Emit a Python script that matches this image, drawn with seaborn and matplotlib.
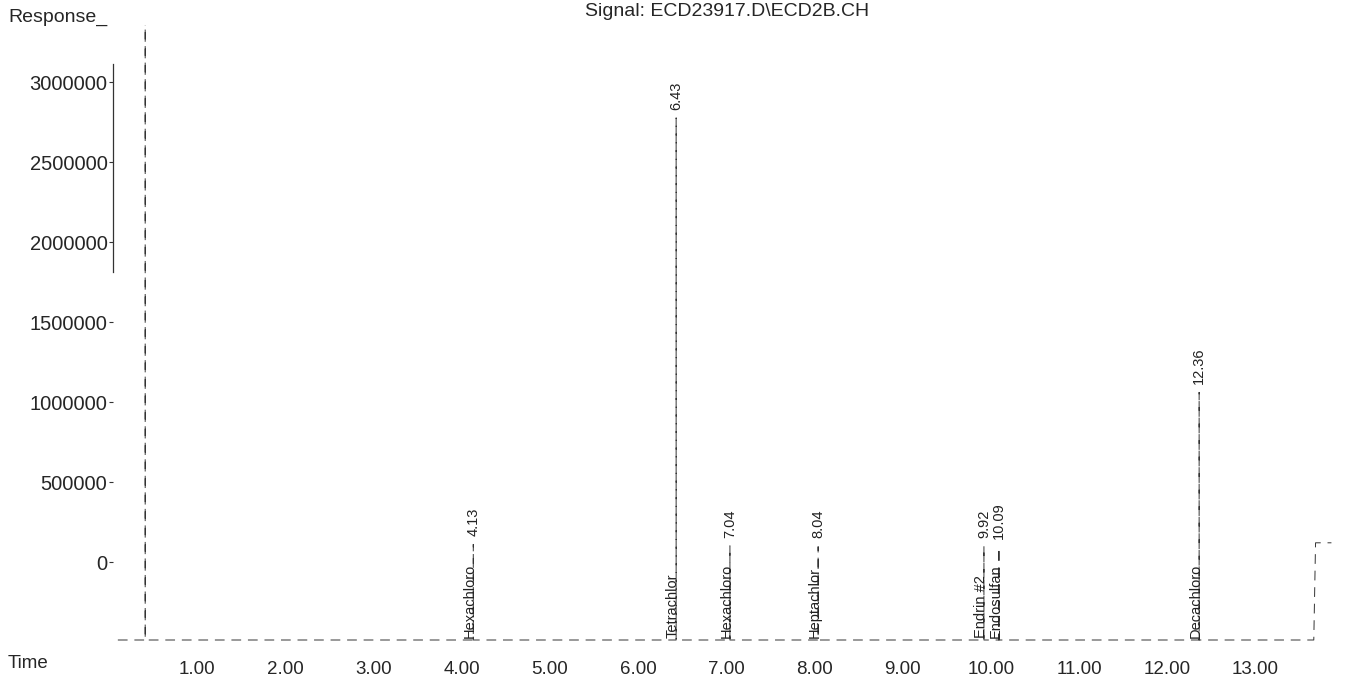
import numpy as np
import pandas as pd
import seaborn as sns
import matplotlib.pyplot as plt

# chromatogram trace (time in min, response)
base = -487500
trace_time = [0.10, 0.41, 0.41, 0.41, 4.13, 4.13, 4.13, 6.43, 6.43, 6.43, 7.04, 7.04, 7.04,
              8.04, 8.04, 8.04, 9.92, 9.92, 9.92, 10.09, 10.09, 10.09, 12.36, 12.36, 12.36,
              13.66, 13.68, 13.86]
trace_resp = [base, base, 4500000, base, base, 110000, base, base, 2775000, base, base, 100000, base,
              base, 95000, base, base, 100000, base, base, 90000, base, base, 1060000, base,
              base, 120000, 120000]

# integrated peaks
peak_rt = [4.13, 6.43, 7.04, 8.04, 9.92, 10.09, 12.36]
peak_top = [110000, 2775000, 100000, 95000, 100000, 90000, 1060000]
peak_name = ['Hexachloro', 'Tetrachlor', 'Hexachloro', 'Heptachlor', 'Endrin #2', 'Endosulfan', 'Decachloro']

y_ticks = [0, 500000, 1000000, 1500000, 2000000, 2500000, 3000000]
x_ticks = list(range(1, 14))

sns.set_theme(style='white')
plt.rcParams['font.family'] = ['Liberation Sans', 'DejaVu Sans']

df = pd.DataFrame({'Time': trace_time, 'Response': trace_resp})

fig = plt.figure(figsize=(13.57, 6.76), dpi=100)
ax = fig.add_axes([113 / 1357, 1 - 644 / 676, 1 - 113 / 1357, (644 - 25) / 676])

sns.lineplot(data=df, x='Time', y='Response', ax=ax, sort=False, estimator=None,
             color='#333333', lw=0.7, linestyle=(0, (10, 7)))

ax.set_xlim(0.045, 14.15)
ax.set_ylim(-512500, 3356250)

ax.set_yticks(y_ticks)
ax.set_yticklabels([str(v) for v in y_ticks])
ax.set_xticks(x_ticks)
ax.set_xticklabels(['%.2f' % v for v in x_ticks])
ax.tick_params(axis='y', length=3, width=0.8, direction='out', labelsize=14.5, pad=1, left=True, color='#333333')
ax.tick_params(axis='x', length=0, labelsize=13.5, pad=12)
ax.set_xlabel('')
ax.set_ylabel('')

for s in ['top', 'right', 'bottom']:
    ax.spines[s].set_visible(False)
ax.spines['left'].set_bounds(1810000, 3110000)
ax.spines['left'].set_color('#333333')
ax.spines['left'].set_linewidth(0.9)

for rt, top, name in zip(peak_rt, peak_top, peak_name):
    ax.annotate('%.2f' % rt, (rt, top), xytext=(0, 6), textcoords='offset points',
                rotation=90, ha='center', va='bottom', fontsize=10.5, color='#222222')
    ax.text(rt - 0.035, base + 10000, name, rotation=90, ha='center', va='bottom',
            fontsize=10.5, color='#222222')

fig.text(8 / 1357, 1 - 17 / 676, 'Response_', ha='left', va='center', fontsize=14)
fig.text(727 / 1357, 1 - 11 / 676, 'Signal: ECD23917.D\\ECD2B.CH', ha='center', va='center', fontsize=14)
fig.text(8 / 1357, 1 - 663 / 676, 'Time', ha='left', va='center', fontsize=13.5)

fig.savefig('out.png', dpi=100)
